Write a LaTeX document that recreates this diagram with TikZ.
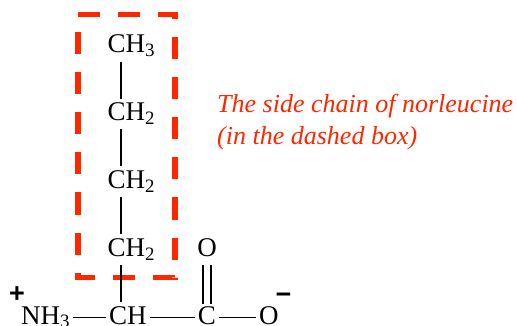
\documentclass[tikz,border=0pt]{standalone}
\usepackage{fontspec}
\setmainfont{Liberation Serif}
\newfontfamily\chargefont{Liberation Sans}
\usepackage{xcolor}
\usepackage{tikz}
\definecolor{chainred}{RGB}{255, 38, 0}

\begin{document}
\begin{tikzpicture}[x=1pt, y=-1pt,
    atom/.style={anchor=base west, inner xsep=3pt, inner ysep=6pt, text height=16pt, text depth=2.5pt, font=\fontsize{27}{32}\selectfont},
    bond/.style={line width=1.5pt},
    charge/.style={inner sep=0pt, font=\chargefont\bfseries\fontsize{27}{27}\selectfont},
    sidebox/.style={chainred, line width=5.5pt, dash pattern=on 22pt off 18pt},
    note/.style={anchor=north west, align=left, inner sep=0pt, text=chainred, font=\itshape\fontsize{26}{31.5}\selectfont}
]
    \useasboundingbox (0,0) rectangle (517,326);

    % Dashed box round the side chain
    \draw[sidebox] (78,14.5) -- (175,14.5) -- (175,277.5) -- (78,277.5) -- cycle;

    % Side chain
    \node[atom] (ch3) at (104.5,53) {CH\textsubscript{3}};
    \node[atom] (ch2a) at (104.5,120.75) {CH\textsubscript{2}};
    \node[atom] (ch2b) at (104.5,188.5) {CH\textsubscript{2}};
    \node[atom] (ch2c) at (104.5,256.25) {CH\textsubscript{2}};

    % Backbone
    \node[atom] (nh3) at (18,324) {NH\textsubscript{3}};
    \node[atom] (ch) at (106,324) {CH};
    \node[atom, anchor=base] (c) at (207,324) {C};
    \node[atom, anchor=base] (otop) at (207,256.5) {O};
    \node[atom] (o) at (256,324) {O};

    % Charges
    \node[charge] (plus) at (17,295) {+};
    \node[charge] (minus) at (283.5,298) {−};

    % Bonds
    \draw[bond] ([xshift=16.5pt]ch3.south west) -- ([xshift=16.5pt]ch3.south west |- ch2a.north);
    \draw[bond] ([xshift=16.5pt]ch2a.south west) -- ([xshift=16.5pt]ch2a.south west |- ch2b.north);
    \draw[bond] ([xshift=16.5pt]ch2b.south west) -- ([xshift=16.5pt]ch2b.south west |- ch2c.north);
    \draw[bond] ([xshift=16.5pt]ch2c.south west) -- ([xshift=16.5pt]ch2c.south west |- ch.north);
    \draw[bond] (nh3.east) -- (ch.west);
    \draw[bond] (ch.east) -- (c.west);
    \draw[bond] (c.east) -- (o.west);
    \draw[bond] ([xshift=-3.8pt]otop.south) -- ([xshift=-3.8pt,yshift=-2pt]c.north);
    \draw[bond] ([xshift=3.8pt]otop.south) -- ([xshift=3.8pt,yshift=-2pt]c.north);

    % Label
    \node[note] (label) at (217,94) {The side chain of norleucine\\(in the dashed box)};
\end{tikzpicture}
\end{document}
